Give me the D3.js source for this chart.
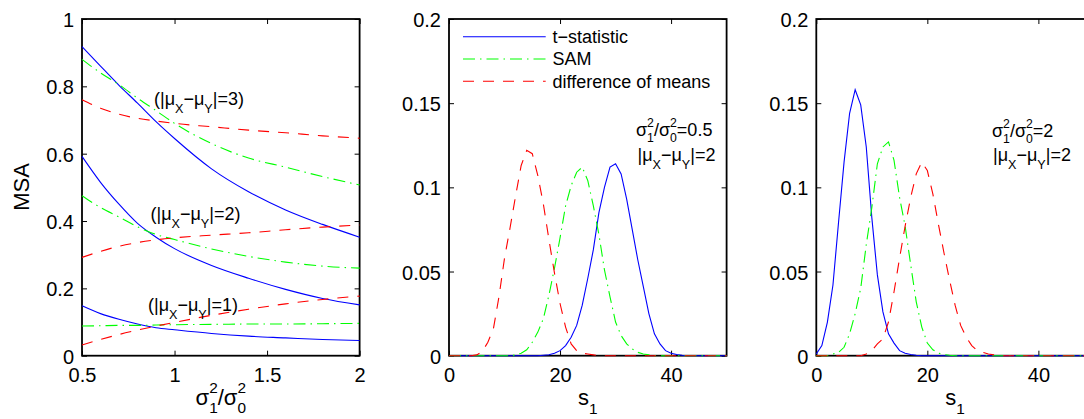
<!DOCTYPE html>
<html><head><meta charset="utf-8">
<script src="https://cdn.jsdelivr.net/npm/d3@7"></script>
<style>
body{margin:0;background:#fff;}
svg{display:block;font-family:"Liberation Sans",Arial,Helvetica,sans-serif;}
</style></head><body>
<svg id="chart" width="1084" height="419"></svg>
<script>
// ---------- data: left panel (MSA vs variance ratio) ----------
const ratioX = [0.5,0.6,0.7,0.8,0.9,1.0,1.2,1.4,1.6,1.8,2.0];
const tstat3 = [0.918,0.860,0.803,0.750,0.695,0.645,0.555,0.487,0.433,0.390,0.352];
const sam3   = [0.880,0.840,0.805,0.765,0.728,0.690,0.630,0.587,0.560,0.532,0.507];
const diff3  = [0.760,0.735,0.717,0.705,0.697,0.690,0.680,0.670,0.662,0.653,0.646];
const tstat2 = [0.592,0.515,0.450,0.393,0.352,0.318,0.268,0.230,0.197,0.170,0.151];
const sam2   = [0.475,0.440,0.412,0.383,0.360,0.345,0.317,0.295,0.278,0.266,0.260];
const diff2  = [0.292,0.310,0.325,0.336,0.344,0.350,0.358,0.365,0.374,0.382,0.388];
const tstat1 = [0.148,0.125,0.108,0.094,0.083,0.077,0.066,0.058,0.053,0.048,0.045];
const sam1   = [0.088,0.089,0.090,0.090,0.091,0.092,0.093,0.094,0.094,0.095,0.096];
const diff1  = [0.032,0.048,0.063,0.076,0.088,0.099,0.120,0.138,0.154,0.167,0.177];

// ---------- data: distributions of s1 ----------
const s1Values = [0,1,2,3,4,5,6,7,8,9,10,11,12,13,14,15,16,17,18,19,20,21,22,23,24,25,26,27,28,29,30,31,32,33,34,35,36,37,38,39,40,41,42,43,44,45,46,47,48,49,50];
// middle panel: sigma1^2/sigma0^2 = 0.5
const tstatMid = [0,0,0,0,0,0,0,0,0,0,0,0,0,0,0,0,0,0.0003,0.0006,0.0015,0.003,0.006,0.011,0.018,0.030,0.046,0.063,0.085,0.100,0.112,0.114,0.108,0.093,0.075,0.057,0.041,0.025,0.013,0.007,0.003,0.0015,0.0007,0.0003,0,0,0,0,0,0,0,0];
const samMid   = [0,0,0,0,0,0,0,0,0,0,0,0,0.0004,0.0015,0.0035,0.008,0.014,0.022,0.036,0.052,0.070,0.089,0.101,0.109,0.112,0.104,0.089,0.072,0.051,0.035,0.020,0.012,0.007,0.004,0.002,0.001,0.0005,0,0,0,0,0,0,0,0,0,0,0,0,0,0];
const diffMid  = [0,0,0,0,0,0.0005,0.0025,0.008,0.016,0.035,0.058,0.076,0.095,0.113,0.122,0.120,0.107,0.090,0.069,0.049,0.031,0.017,0.007,0.003,0.0015,0.001,0.0005,0,0,0,0,0,0,0,0,0,0,0,0,0,0,0,0,0,0,0,0,0,0,0,0];
// right panel: sigma1^2/sigma0^2 = 2
const tstatRight = [0.001,0.006,0.020,0.042,0.079,0.115,0.144,0.158,0.149,0.124,0.082,0.048,0.026,0.013,0.0075,0.003,0.0015,0.0007,0.0003,0,0,0,0,0,0,0,0,0,0,0,0,0,0,0,0,0,0,0,0,0,0,0,0,0,0,0,0,0,0,0,0];
const samRight   = [0,0,0,0.001,0.002,0.005,0.013,0.025,0.040,0.066,0.088,0.114,0.124,0.127,0.116,0.094,0.077,0.054,0.032,0.017,0.0075,0.0035,0.0015,0.0007,0.0003,0,0,0,0,0,0,0,0,0,0,0,0,0,0,0,0,0,0,0,0,0,0,0,0,0,0];
const diffRight  = [0,0,0,0,0,0,0,0,0,0.001,0.003,0.007,0.010,0.020,0.038,0.058,0.077,0.094,0.108,0.115,0.110,0.096,0.078,0.061,0.045,0.030,0.018,0.011,0.006,0.003,0.002,0.001,0.0005,0,0,0,0,0,0,0,0,0,0,0,0,0,0,0,0,0,0];

// ---------- ticks / labels ----------
const leftXTicks = [0.5,1,1.5,2];
const leftXTickLabels = ["0.5","1","1.5","2"];
const leftYTicks = [0,0.2,0.4,0.6,0.8,1];
const leftYTickLabels = ["0","0.2","0.4","0.6","0.8","1"];
const distXTicks = [0,20,40];
const distXTickLabels = ["0","20","40"];
const distYTicks = [0,0.05,0.1,0.15,0.2];
const distYTickLabels = ["0","0.05","0.1","0.15","0.2"];
const seriesNames = ["t\u2212statistic","SAM","difference of means"];

// ---------- styling ----------
const COLORS = ["#0000ff","#00ff00","#ff0000"];
const DASHES = [null,"12,5,1.5,5","11,9"];

const svg = d3.select("#chart");
const TOP = 19, BOTTOM = 355.7, W = 277.6;

function richText(parent, x, y, segs, size, anchor, subShift, supShift, smallRatio) {
  subShift = subShift === undefined ? 0.45 : subShift;
  supShift = supShift === undefined ? 0.5 : supShift;
  smallRatio = smallRatio || 0.7;
  const g = parent.append("g");
  let cx = 0;
  const small = size * smallRatio;
  segs.forEach(s => {
    if (s.length === 1 || s[1] === "n") {
      const t = g.append("text").attr("x", cx).attr("y", 0).attr("font-size", size).text(s[0]);
      cx += t.node().getComputedTextLength();
    } else if (s[1] === "sub") {
      const t = g.append("text").attr("x", cx).attr("y", size*subShift).attr("font-size", small).text(s[0]);
      cx += t.node().getComputedTextLength();
    } else if (s[1] === "ss") {
      const a = g.append("text").attr("x", cx).attr("y", size*subShift).attr("font-size", small).text(s[0]);
      const b = g.append("text").attr("x", cx).attr("y", -size*supShift).attr("font-size", small).text(s[2]);
      cx += Math.max(a.node().getComputedTextLength(), b.node().getComputedTextLength());
    }
  });
  let dx = x;
  if (anchor === "middle") dx = x - cx/2;
  if (anchor === "end") dx = x - cx;
  g.attr("transform", `translate(${dx},${y})`).attr("fill","#000");
  return g;
}

function makePanel(x0, xDomain, yDomain, xTicks, xLabels, yTicks, yLabels) {
  const x = d3.scaleLinear().domain(xDomain).range([x0, x0 + W]);
  const y = d3.scaleLinear().domain(yDomain).range([BOTTOM, TOP]);
  const g = svg.append("g");
  const tl = 5;
  const axB = d3.axisBottom(x).tickValues(xTicks).tickSizeInner(-tl).tickSizeOuter(0).tickPadding(9)
    .tickFormat((d,i) => xLabels[i]);
  const axT = d3.axisTop(x).tickValues(xTicks).tickSizeInner(-tl).tickSizeOuter(0).tickFormat("");
  const axL = d3.axisLeft(y).tickValues(yTicks).tickSizeInner(-tl).tickSizeOuter(0).tickPadding(8)
    .tickFormat((d,i) => yLabels[i]);
  const axR = d3.axisRight(y).tickValues(yTicks).tickSizeInner(-tl).tickSizeOuter(0).tickFormat("");
  const gb = g.append("g").attr("transform", `translate(0,${BOTTOM})`).call(axB);
  const gt = g.append("g").attr("transform", `translate(0,${TOP})`).call(axT);
  const gl = g.append("g").attr("transform", `translate(${x0},0)`).call(axL);
  const gr = g.append("g").attr("transform", `translate(${x0+W},0)`).call(axR);
  [gb,gt,gl,gr].forEach(a => {
    a.select(".domain").remove();
    a.attr("font-family", null).attr("font-size", null);
    a.selectAll(".tick line").attr("stroke","#000").attr("stroke-width",1);
    a.selectAll(".tick text").attr("font-size", 20).attr("fill","#000");
  });
  gb.selectAll(".tick text").attr("dy", "0.85em");
  gl.selectAll(".tick text").attr("dy", "0.38em");
  g.append("rect").attr("x", x0).attr("y", TOP).attr("width", W).attr("height", BOTTOM-TOP)
    .attr("fill","none").attr("stroke","#000").attr("stroke-width",1.8);
  const lines = g.append("g");
  return {x, y, g, lines};
}

function drawSeries(p, xs, ys, k, curve) {
  const line = d3.line().x((d,i) => p.x(xs[i])).y(d => p.y(d)).curve(curve || d3.curveLinear);
  const path = p.lines.append("path").datum(ys).attr("d", line)
    .attr("fill","none").attr("stroke", COLORS[k]).attr("stroke-width", 1.1);
  if (DASHES[k]) path.attr("stroke-dasharray", DASHES[k]);
}

// ---------- left panel ----------
const pL = makePanel(82, [0.5,2], [0,1], leftXTicks, leftXTickLabels, leftYTicks, leftYTickLabels);
[[tstat3,sam3,diff3],[tstat2,sam2,diff2],[tstat1,sam1,diff1]].forEach(grp => {
  grp.forEach((ys,k) => drawSeries(pL, ratioX, ys, k, d3.curveMonotoneX));
});
const annoSize = 18;
function muLabel(n) {
  return [["(|\u03bc"],["X","sub"],["\u2212\u03bc"],["Y","sub"],["|="+n+")"]];
}
richText(svg, 154, 105, muLabel(3), annoSize, "start");
richText(svg, 150.5, 219.5, muLabel(2), annoSize, "start");
richText(svg, 148, 311, muLabel(1), annoSize, "start");
svg.append("text").attr("transform", `translate(29,187) rotate(-90)`).attr("text-anchor","middle")
  .attr("font-size", 22).attr("fill","#000").text("MSA");
richText(svg, 82 + W/2, 405, [["\u03c3"],["1","ss","2"],["/\u03c3"],["0","ss","2"]], 22, "middle", 0.38, 0.55);

// ---------- middle panel ----------
const pM = makePanel(449, [0,50], [0,0.2], distXTicks, distXTickLabels, distYTicks, distYTickLabels);
[tstatMid, samMid, diffMid].forEach((ys,k) => drawSeries(pM, s1Values, ys, k));
richText(svg, 449 + W/2, 404.5, [["s"],["1","sub"]], 22, "middle", 0.42);
richText(svg, 636, 136, [["\u03c3"],["1","ss","2"],["/\u03c3"],["0","ss","2"],["=0.5"]], annoSize, "start", 0.36, 0.5, 0.68);
richText(svg, 637.5, 161, [["|\u03bc"],["X","sub"],["\u2212\u03bc"],["Y","sub"],["|=2"]], annoSize, "start", 0.42, 0.5, 0.7);
const legX0 = 463, legX1 = 545.7, legY = [36.7, 59, 81.3];
seriesNames.forEach((name,k) => {
  const l = svg.append("line").attr("x1", legX0).attr("x2", legX1).attr("y1", legY[k]).attr("y2", legY[k])
    .attr("stroke", COLORS[k]).attr("stroke-width", 1.1);
  if (DASHES[k]) l.attr("stroke-dasharray", DASHES[k]);
  svg.append("text").attr("x", 552.5).attr("y", legY[k]).attr("dy","0.36em")
    .attr("font-size", 18).attr("fill","#000").text(name);
});

// ---------- right panel ----------
const pR = makePanel(816.3, [0,50], [0,0.2], distXTicks, distXTickLabels, distYTicks, distYTickLabels);
[tstatRight, samRight, diffRight].forEach((ys,k) => drawSeries(pR, s1Values, ys, k));
richText(svg, 816.3 + W/2, 404.5, [["s"],["1","sub"]], 22, "middle", 0.42);
richText(svg, 992, 137, [["\u03c3"],["1","ss","2"],["/\u03c3"],["0","ss","2"],["=2"]], annoSize, "start", 0.36, 0.5, 0.68);
richText(svg, 993, 161, [["|\u03bc"],["X","sub"],["\u2212\u03bc"],["Y","sub"],["|=2"]], annoSize, "start", 0.42, 0.5, 0.7);
</script>
</body></html>
